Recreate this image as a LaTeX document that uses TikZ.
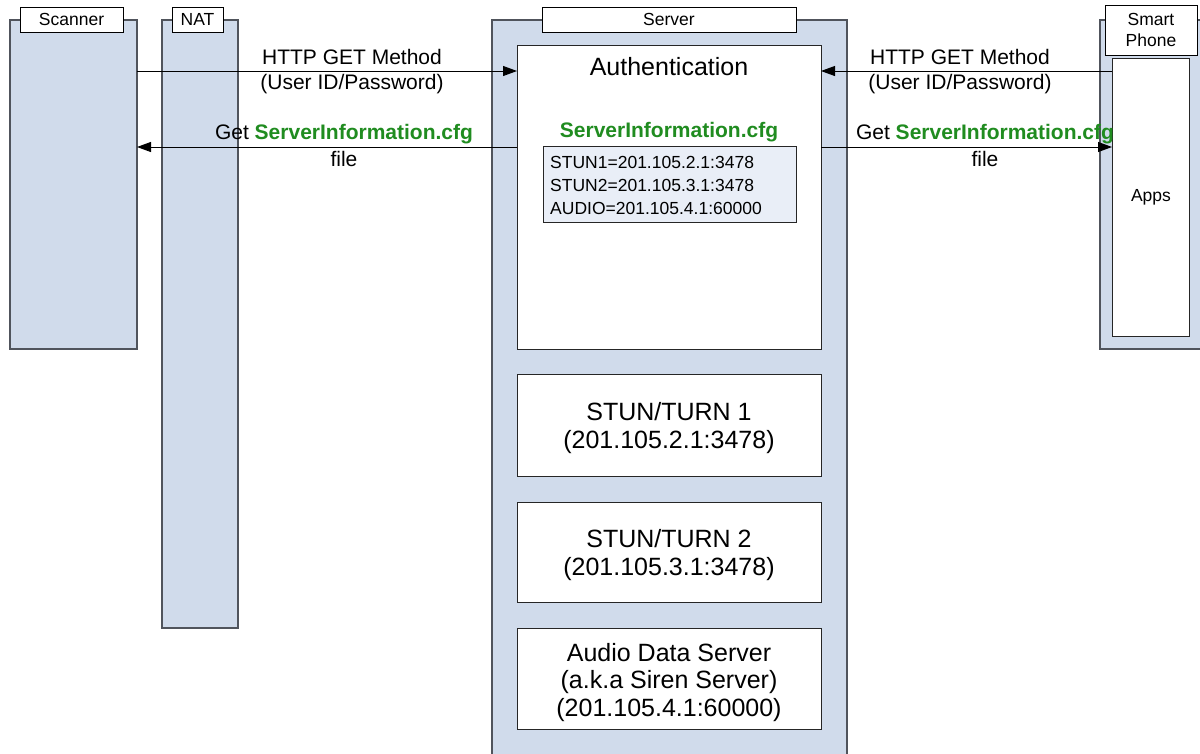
\documentclass[tikz,border=0pt]{standalone}
\usepackage{fontspec}
\setmainfont{Liberation Sans}
\usetikzlibrary{arrows.meta}

\definecolor{lane}{RGB}{208,219,235}
\definecolor{cfgfill}{RGB}{233,238,247}
\definecolor{cfggreen}{RGB}{32,140,32}
\definecolor{edgegray}{RGB}{80,84,92}

\begin{document}
\begin{tikzpicture}[x=1pt,y=-1pt,
  box/.style={anchor=north west,inner sep=0pt,outer sep=0pt},
  lanebox/.style={box,draw=edgegray,fill=lane,line width=1.4pt},
  tagbox/.style={box,draw=black,fill=white,line width=0.9pt},
  unit/.style={box,draw=black!85,fill=white,line width=0.9pt},
  small/.style={font=\fontsize{17.5}{20.5}\selectfont},
  mid/.style={font=\fontsize{21}{26}\selectfont},
  big/.style={font=\fontsize{25}{27.5}\selectfont},
  txt/.style={inner sep=0pt,align=center},
  msg/.style={line width=0.9pt,-{Triangle[length=14pt,width=10pt]}},
  fname/.style={font=\fontsize{21}{26}\selectfont\bfseries,text=cfggreen}
]
\clip (0,0) rectangle (1200,753);
\fill[white] (0,0) rectangle (1200,753);

% lifelines
\node[lanebox,minimum width=127,minimum height=329] (scan) at (10,20) {};
\node[lanebox,minimum width=76,minimum height=608] (nat) at (162,20) {};
\node[lanebox,minimum width=355,minimum height=760] (server) at (492,20) {};
\node[lanebox,minimum width=120,minimum height=329] (phone) at (1100,20) {};

% lifeline titles
\node[tagbox,minimum width=103,minimum height=25] (scantag) at (20,7) {};
\node[small,txt] at (scantag.center) {Scanner};
\node[tagbox,minimum width=51,minimum height=25] (nattag) at (172,7) {};
\node[small,txt] at (nattag.center) {NAT};
\node[tagbox,minimum width=254,minimum height=25] (servertag) at (542,7) {};
\node[small,txt] at (servertag.center) {Server};
\node[tagbox,minimum width=92,minimum height=50] (phonetag) at (1105,5) {};
\node[small,txt] at (phonetag.center) {Smart\\Phone};

% server parts
\node[unit,minimum width=304,minimum height=304] (auth) at (517,45) {};
\node[big,txt] at (669,67) {Authentication};
\node[txt,fname] (cfgname) at (669,132) {ServerInformation.cfg};
\node[box,draw=black!85,fill=cfgfill,line width=0.9pt,minimum width=253,minimum height=76] (cfg) at (543,146) {};
\node[small,anchor=west,inner sep=0pt] at (550,162) {STUN1=201.105.2.1:3478};
\node[small,anchor=west,inner sep=0pt] at (550,185) {STUN2=201.105.3.1:3478};
\node[small,anchor=west,inner sep=0pt] at (550,208) {AUDIO=201.105.4.1:60000};

\node[unit,minimum width=304,minimum height=102] (stun1) at (517,374) {};
\node[big,txt] at ([yshift=-3pt]stun1.center) {STUN/TURN 1\\(201.105.2.1:3478)};
\node[unit,minimum width=304,minimum height=100] (stun2) at (517,502) {};
\node[big,txt] at ([yshift=-3pt]stun2.center) {STUN/TURN 2\\(201.105.3.1:3478)};
\node[unit,minimum width=304,minimum height=101] (audio) at (517,628) {};
\node[big,txt] at ([yshift=-4pt]audio.center) {Audio Data Server\\(a.k.a Siren Server)\\(201.105.4.1:60000)};

% phone app
\node[unit,minimum width=77,minimum height=278] (apps) at (1112,58) {};
\node[small,txt] at (1151,197) {Apps};

% message rows
\coordinate (req) at (0,71);
\coordinate (rsp) at (0,147);

\draw[msg] (scan.east |- req) -- (auth.west |- req);
\draw[msg] (auth.west |- rsp) -- (scan.east |- rsp);
\draw[msg] (apps.west |- req) -- (auth.east |- req);
\draw[msg] (auth.east |- rsp) -- (apps.west |- rsp);

% message labels
\node[mid,txt] at (352,57) {HTTP GET Method};
\node[mid,txt] at (352,84) {(User ID/Password)};
\node[mid,txt] at (344,134) {Get \textcolor{cfggreen}{\bfseries ServerInformation.cfg}};
\node[mid,txt] at (344,159) {file};

\node[mid,txt] at (960,57) {HTTP GET Method};
\node[mid,txt] at (960,84) {(User ID/Password)};
\node[mid,txt] at (985,134) {Get \textcolor{cfggreen}{\bfseries ServerInformation.cfg}};
\node[mid,txt] at (985,159) {file};
\end{tikzpicture}
\end{document}
